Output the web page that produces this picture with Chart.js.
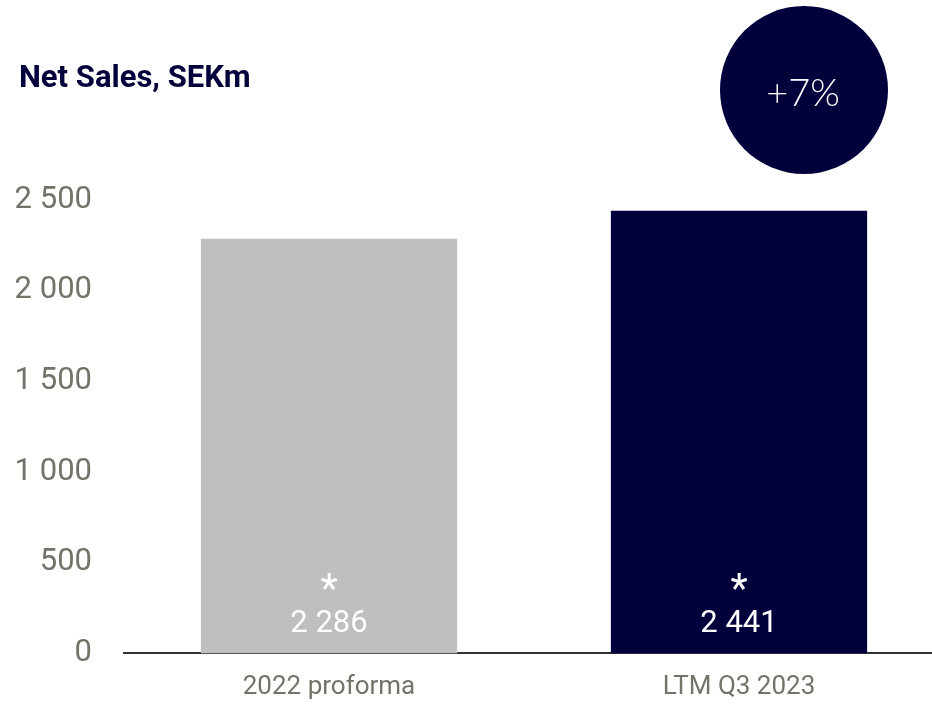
<!DOCTYPE html>
<html>
<head>
<meta charset="utf-8">
<script src="https://cdn.jsdelivr.net/npm/chart.js@4"></script>
<style>
  html, body { margin: 0; padding: 0; background: #fff; overflow: hidden; }
  #wrap { width: 944px; height: 704px; }
</style>
</head>
<body>
<div id="wrap"><canvas id="salesChart"></canvas></div>
<script>
const categories = ['2022 proforma', 'LTM Q3 2023'];
const netSales = [2286, 2441];
const barColors = ['#bfbfbf', '#02003a'];
const yTicks = [0, 500, 1000, 1500, 2000, 2500];
const chartTitle = 'Net Sales, SEKm';
const growthLabel = '+7%';

const NAVY = '#02003a';
const GREY_TEXT = '#737368';

function fmt(v) {
  return String(v).replace(/\B(?=(\d{3})+(?!\d))/g, ' ');
}

// title + growth bubble + value labels inside bars
const decorations = {
  id: 'decorations',
  afterDatasetsDraw(chart) {
    const { ctx } = chart;
    ctx.save();
    ctx.fillStyle = NAVY;
    ctx.font = 'bold 31px Roboto';
    ctx.textAlign = 'left';
    ctx.textBaseline = 'alphabetic';
    ctx.fillText(chartTitle, 19, 87);

    ctx.beginPath();
    ctx.arc(804, 90, 84, 0, Math.PI * 2);
    ctx.fillStyle = NAVY;
    ctx.fill();
    ctx.fillStyle = '#fff';
    ctx.font = '300 38px Lato';
    ctx.textAlign = 'center';
    ctx.textBaseline = 'middle';
    ctx.fillText(growthLabel, 803, 94);

    const meta = chart.getDatasetMeta(0);
    meta.data.forEach((bar, i) => {
      ctx.fillStyle = '#fff';
      ctx.font = '40px Roboto';
      ctx.textAlign = 'center';
      ctx.textBaseline = 'middle';
      ctx.fillText('*', bar.x, 592);
      ctx.font = '31px Roboto';
      ctx.fillText(fmt(netSales[i]), bar.x, 624);
    });
    ctx.restore();
  }
};

const ctx = document.getElementById('salesChart').getContext('2d');
new Chart(ctx, {
  type: 'bar',
  data: {
    labels: categories,
    datasets: [{
      data: netSales,
      backgroundColor: barColors,
      categoryPercentage: 1,
      barPercentage: 0.625
    }]
  },
  options: {
    responsive: true,
    maintainAspectRatio: false,
    animation: false,
    layout: { padding: { top: 200, right: 0, bottom: 0, left: 0 } },
    plugins: {
      legend: { display: false },
      tooltip: { enabled: false }
    },
    scales: {
      x: {
        grid: { display: false, drawTicks: false },
        border: { display: true, color: '#333', width: 2 },
        ticks: { color: GREY_TEXT, font: { family: 'Roboto', size: 26 }, padding: 18 },
        afterFit(scale) { scale.height = 50; }
      },
      y: {
        min: 0,
        max: 2500,
        afterBuildTicks(scale) { scale.ticks = yTicks.map(v => ({ value: v })); },
        grid: { display: false, drawTicks: false },
        border: { display: false },
        ticks: {
          color: GREY_TEXT,
          font: { family: 'Roboto', size: 31 },
          padding: 32,
          callback: v => fmt(v)
        },
        afterFit(scale) { scale.width = 124; }
      }
    }
  },
  plugins: [decorations]
});
</script>
</body>
</html>
